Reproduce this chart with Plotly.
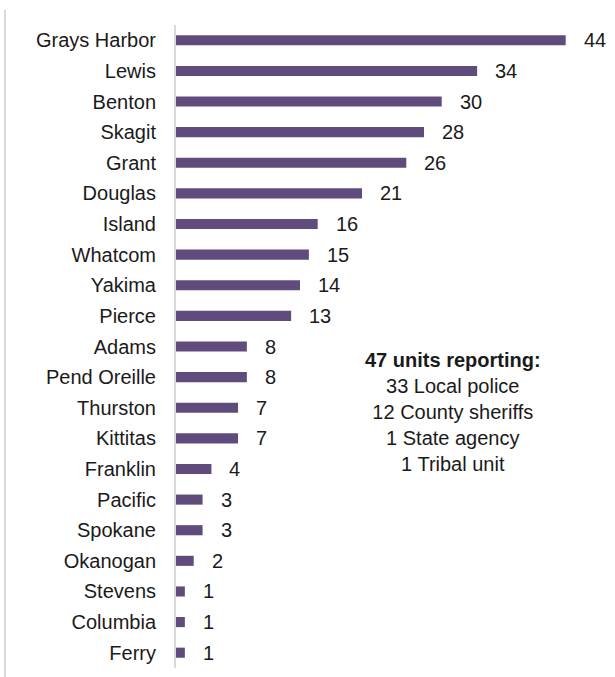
import plotly.graph_objects as go

counties = ["Grays Harbor", "Lewis", "Benton", "Skagit", "Grant", "Douglas", "Island",
            "Whatcom", "Yakima", "Pierce", "Adams", "Pend Oreille", "Thurston", "Kittitas",
            "Franklin", "Pacific", "Spokane", "Okanogan", "Stevens", "Columbia", "Ferry"]
values = [44, 34, 30, 28, 26, 21, 16, 15, 14, 13, 8, 8, 7, 7, 4, 3, 3, 2, 1, 1, 1]

note_lines = ["<b>47 units reporting:</b>", "33 Local police", "12 County sheriffs",
              "1 State agency", "1 Tribal unit"]

FONT = "Liberation Sans, Arial, sans-serif"
FS = 20

L, R, T, B = 176, 5, 25, 9
W, H = 615, 677
pw = W - L - R
ph = H - T - B

fig = go.Figure()
fig.add_trace(go.Bar(
    y=counties, x=values, orientation="h",
    marker=dict(color="#604c7c", line=dict(width=0)),
    hoverinfo="skip",
))

annotations = [dict(x=v, y=c, xref="x", yref="y", text=str(v), showarrow=False,
                    xanchor="left", yanchor="middle", xshift=16,
                    font=dict(family=FONT, size=FS, color="#1a1a1a"))
               for c, v in zip(counties, values)]

annotations.append(dict(
    x=(453 - L) / pw, y=1 - (412 - T) / ph, xref="paper", yref="paper",
    xanchor="center", yanchor="middle",
    text="<br>".join(note_lines), showarrow=False,
    font=dict(family=FONT, size=FS, color="#1a1a1a"), align="center",
))

fig.update_layout(
    width=W, height=H,
    margin=dict(l=L, r=R, t=T, b=B),
    paper_bgcolor="white", plot_bgcolor="white",
    bargap=0.67, showlegend=False,
    font=dict(family=FONT, size=FS, color="#1a1a1a"),
    xaxis=dict(range=[0, 49], visible=False, showgrid=False, zeroline=False),
    yaxis=dict(autorange="reversed", showgrid=False, zeroline=False,
               showline=True, linecolor="#d9d9d9", linewidth=2,
               ticks="", ticklabelstandoff=14,
               tickfont=dict(family=FONT, size=FS, color="#1a1a1a")),
    annotations=annotations,
)

fig.add_shape(type="line", xref="paper", yref="paper",
              x0=(5 - L) / pw, x1=(5 - L) / pw, y0=1 + 15 / ph, y1=-B / ph,
              line=dict(color="#d9d9d9", width=2))

fig.write_html("out.html")
